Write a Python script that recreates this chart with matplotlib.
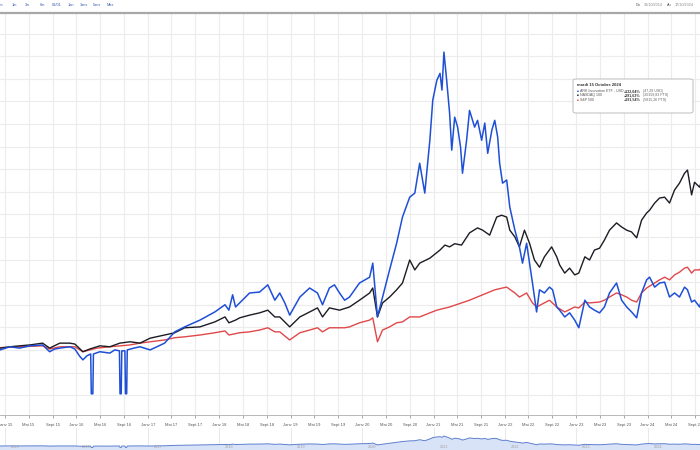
"""Performance comparée ARK Innovation ETF / NASDAQ 100 / S&P 500 (base 31/10/2014)."""

import matplotlib

matplotlib.use("Agg")

import matplotlib.dates as mdates
import matplotlib.pyplot as plt
import pandas as pd
from matplotlib.patches import FancyBboxPatch
from matplotlib.ticker import FuncFormatter, MultipleLocator

plt.rcParams["font.family"] = ["Liberation Sans", "DejaVu Sans"]

# --- données (performance en %) ---
ark_dates = [
    "2014-12-06", "2015-01-26", "2015-03-16", "2015-05-07", "2015-07-12", "2015-08-17",
    "2015-09-12", "2015-10-08", "2015-11-28", "2015-12-24", "2016-01-16", "2016-02-03",
    "2016-02-24", "2016-03-14", "2016-03-17", "2016-03-25", "2016-03-28", "2016-04-30",
    "2016-06-20", "2016-07-15", "2016-08-08", "2016-08-11", "2016-08-17", "2016-08-20",
    "2016-09-05", "2016-09-08", "2016-09-14", "2016-09-17", "2016-10-21", "2016-11-21",
    "2017-01-12", "2017-03-27", "2017-05-18", "2017-07-08", "2017-09-24", "2017-12-09",
    "2018-01-30", "2018-02-19", "2018-03-10", "2018-03-25", "2018-04-15", "2018-06-05",
    "2018-07-26", "2018-09-06", "2018-10-12", "2018-11-06", "2018-12-02", "2018-12-27",
    "2019-02-17", "2019-04-08", "2019-05-18", "2019-06-13", "2019-07-18", "2019-08-13",
    "2019-09-08", "2019-10-04", "2019-10-29", "2019-12-19", "2020-02-09", "2020-02-25",
    "2020-03-20", "2020-04-15", "2020-05-21", "2020-06-26", "2020-07-26", "2020-09-01",
    "2020-09-27", "2020-10-22", "2020-11-17", "2020-12-13", "2020-12-28", "2021-01-18",
    "2021-02-03", "2021-02-13", "2021-02-23", "2021-03-09", "2021-03-24", "2021-04-04",
    "2021-04-19", "2021-05-04", "2021-05-19", "2021-05-29", "2021-06-19", "2021-07-04",
    "2021-07-30", "2021-08-14", "2021-09-04", "2021-09-20", "2021-10-05", "2021-10-26",
    "2021-11-10", "2021-11-25", "2021-12-05", "2021-12-20", "2022-01-10", "2022-01-26",
    "2022-02-21", "2022-03-16", "2022-04-01", "2022-04-22", "2022-05-07", "2022-05-22",
    "2022-06-12", "2022-06-27", "2022-07-22", "2022-08-17", "2022-09-02", "2022-09-23",
    "2022-10-08", "2022-11-03", "2022-11-28", "2022-12-24", "2023-01-14", "2023-02-14",
    "2023-03-10", "2023-04-04", "2023-04-30", "2023-05-25", "2023-06-20", "2023-07-26",
    "2023-08-21", "2023-09-16", "2023-10-11", "2023-11-06", "2023-12-01", "2023-12-27",
    "2024-01-11", "2024-02-06", "2024-03-02", "2024-03-28", "2024-04-22", "2024-05-18",
    "2024-06-12", "2024-07-08", "2024-07-23", "2024-08-13", "2024-08-28", "2024-09-23",
    "2024-10-15",
]
ark_pct = [
    0, 7, 4, 9, 11, -4,
    2, 4, 7, 2, -13, -22,
    -13, -9, -97, -97, -9, -4,
    -7, 0, -2, -97, -97, -2,
    -2, -97, -97, 0, 4, 7,
    0, 15, 40, 51, 66, 84,
    100, 88, 122, 95, 104, 126,
    128, 144, 110, 126, 104, 77,
    117, 137, 126, 100, 137, 144,
    126, 110, 117, 148, 161, 192,
    73, 117, 177, 236, 294, 338,
    347, 413, 347, 464, 553, 597,
    612, 575, 659, 597, 524, 442,
    515, 493, 449, 391, 464, 530,
    493, 508, 464, 502, 435, 486,
    508, 471, 413, 369, 376, 316,
    265, 228, 192, 236, 192, 148,
    84, 133, 126, 139, 133, 95,
    88, 73, 82, 66, 49, 110,
    95, 88, 82, 95, 126, 148,
    110, 95, 84, 71, 126, 155,
    161, 139, 148, 150, 117, 126,
    117, 139, 133, 106, 110, 95,
    132.04,
]

ndx_dates = [
    "2014-12-06", "2015-01-26", "2015-03-16", "2015-05-07", "2015-07-12", "2015-08-17",
    "2015-10-08", "2015-11-28", "2015-12-24", "2016-02-03", "2016-03-09", "2016-04-30",
    "2016-06-20", "2016-08-10", "2016-10-01", "2016-11-21", "2017-01-12", "2017-03-27",
    "2017-05-18", "2017-07-08", "2017-09-24", "2017-12-09", "2018-01-30", "2018-02-19",
    "2018-03-25", "2018-04-15", "2018-06-05", "2018-07-26", "2018-09-06", "2018-10-12",
    "2018-11-06", "2018-12-27", "2019-02-17", "2019-04-08", "2019-05-18", "2019-06-13",
    "2019-07-18", "2019-09-08", "2019-10-29", "2019-12-19", "2020-02-09", "2020-02-25",
    "2020-03-20", "2020-04-15", "2020-05-21", "2020-06-26", "2020-07-26", "2020-09-01",
    "2020-09-27", "2020-10-22", "2020-12-13", "2021-02-03", "2021-02-28", "2021-03-24",
    "2021-04-19", "2021-05-24", "2021-07-04", "2021-08-14", "2021-09-09", "2021-10-15",
    "2021-11-20", "2021-12-15", "2022-01-10", "2022-01-26", "2022-02-21", "2022-03-16",
    "2022-04-11", "2022-05-07", "2022-06-01", "2022-06-27", "2022-07-22", "2022-08-28",
    "2022-09-23", "2022-10-08", "2022-11-03", "2022-11-28", "2022-12-24", "2023-01-14",
    "2023-02-14", "2023-03-10", "2023-04-04", "2023-04-30", "2023-05-25", "2023-06-20",
    "2023-07-26", "2023-08-21", "2023-09-16", "2023-10-11", "2023-11-06", "2023-12-01",
    "2023-12-27", "2024-01-11", "2024-02-06", "2024-03-02", "2024-03-28", "2024-04-22",
    "2024-05-18", "2024-06-12", "2024-07-08", "2024-07-23", "2024-08-13", "2024-08-28",
    "2024-09-23", "2024-10-15",
]
ndx_pct = [
    4, 7, 9, 11, 15, 4,
    15, 15, 13, -4, 2, 9,
    7, 15, 18, 15, 26, 33,
    38, 49, 51, 62, 73, 60,
    66, 71, 77, 82, 88, 73,
    73, 51, 73, 84, 93, 73,
    93, 88, 95, 110, 126, 137,
    73, 104, 117, 133, 148, 199,
    177, 192, 203, 221, 232, 228,
    235, 232, 259, 270, 265, 254,
    294, 298, 294, 265, 250, 228,
    265, 236, 199, 183, 206, 228,
    206, 188, 170, 181, 166, 170,
    206, 199, 221, 225, 243, 265,
    281, 272, 265, 261, 248, 287,
    303, 309, 325, 336, 338, 325,
    354, 369, 391, 398, 343, 371,
    360, 391.63,
]

spx_dates = [
    "2014-12-06", "2015-03-16", "2015-07-12", "2015-08-17", "2015-10-08", "2015-12-24",
    "2016-02-03", "2016-04-15", "2016-06-20", "2016-10-01", "2016-11-21", "2017-01-12",
    "2017-03-27", "2017-05-18", "2017-07-08", "2017-09-24", "2017-12-09", "2018-01-30",
    "2018-02-19", "2018-04-15", "2018-06-05", "2018-07-26", "2018-09-06", "2018-10-12",
    "2018-11-06", "2018-12-27", "2019-02-17", "2019-04-08", "2019-05-18", "2019-06-13",
    "2019-07-18", "2019-10-04", "2019-10-29", "2019-12-19", "2020-02-09", "2020-02-25",
    "2020-03-20", "2020-04-15", "2020-05-21", "2020-06-26", "2020-07-26", "2020-09-01",
    "2020-10-22", "2020-12-13", "2021-01-18", "2021-03-24", "2021-07-04", "2021-11-10",
    "2021-12-20", "2022-01-10", "2022-02-21", "2022-03-16", "2022-04-22", "2022-05-22",
    "2022-06-12", "2022-08-17", "2022-09-23", "2022-11-03", "2022-12-24", "2023-01-14",
    "2023-02-14", "2023-03-10", "2023-04-30", "2023-05-25", "2023-06-20", "2023-07-26",
    "2023-08-21", "2023-09-16", "2023-10-11", "2023-11-06", "2023-12-01", "2023-12-27",
    "2024-02-06", "2024-03-02", "2024-03-28", "2024-04-22", "2024-05-18", "2024-06-12",
    "2024-07-08", "2024-07-23", "2024-08-13", "2024-08-28", "2024-09-23", "2024-10-15",
]
spx_pct = [
    5, 7, 9, 2, 7, 7,
    -4, 4, 7, 11, 15, 18,
    22, 27, 29, 33, 38, 42,
    33, 38, 40, 44, 49, 40,
    40, 22, 38, 44, 49, 40,
    49, 49, 51, 60, 66, 71,
    18, 44, 51, 60, 62, 73,
    73, 82, 88, 95, 110, 133,
    137, 139, 126, 117, 126, 104,
    95, 110, 95, 84, 95, 93,
    106, 104, 106, 110, 117, 126,
    122, 117, 110, 106, 126, 137,
    148, 155, 161, 155, 166, 172,
    181, 183, 170, 177, 177, 191.54,
]

mois_fr = {1: "Janv", 5: "Mai", 9: "Sept"}
annees_nav = ["2015", "2016", "2017", "2018", "2019", "2020", "2021", "2022", "2023", "2024"]
liens_periode = ["1sem", "1m", "3m", "6m", "01/01", "1an", "3ans", "5ans", "Max"]

BLEU = "#1f4fd6"
NOIR = "#1c1c24"
ROUGE = "#e0484a"
GRILLE = "#ececec"

ark = pd.Series(ark_pct, index=pd.to_datetime(ark_dates))
ndx = pd.Series(ndx_pct, index=pd.to_datetime(ndx_dates))
spx = pd.Series(spx_pct, index=pd.to_datetime(spx_dates))
xmin, xmax = pd.Timestamp("2014-12-06"), pd.Timestamp("2024-09-25")

W, H = 700, 450
fig = plt.figure(figsize=(W / 100, H / 100), dpi=100)
fig.patch.set_facecolor("white")


def px(x, y):
    """Pixels (origine en haut à gauche) -> coordonnées figure."""
    return x / W, 1 - y / H


# --- graphique principal ---
ax = fig.add_axes([0, 35 / H, 1, 402 / H])
ax.plot(spx.index, spx.values, color=ROUGE, lw=1.0, zorder=2)
ax.plot(ndx.index, ndx.values, color=NOIR, lw=1.0, zorder=3)
ax.plot(ark.index, ark.values, color=BLEU, lw=1.1, zorder=4)

ax.set_xlim(xmin, xmax)
ax.set_ylim(-144, 745.5)
ax.yaxis.set_major_locator(MultipleLocator(50))
ax.xaxis.set_major_locator(mdates.MonthLocator(bymonth=[1, 5, 9]))
ax.xaxis.set_major_formatter(
    FuncFormatter(lambda v, _: f"{mois_fr[mdates.num2date(v).month]} {mdates.num2date(v):%y}")
)
ax.grid(True, color=GRILLE, lw=0.8, zorder=0)
ax.tick_params(axis="y", left=False, labelleft=False)
ax.tick_params(axis="x", length=2.5, width=0.6, color="#999999", labelsize=3.0,
               labelcolor="#555555", pad=3)
for side in ("left", "right"):
    ax.spines[side].set_visible(False)
ax.spines["top"].set_color("#a8a8a8")
ax.spines["top"].set_linewidth(1.6)
ax.spines["bottom"].set_color("#b8b8b8")
ax.spines["bottom"].set_linewidth(0.7)

# --- navigateur en bas ---
nav = fig.add_axes([0, 0, 1, 22 / H])
nav.fill_between(ark.index, ark.values, -264, color="#d9e3f7", lw=0)
nav.plot(ark.index, ark.values, color="#5f80d0", lw=0.7)
nav.set_xlim(xmin, xmax)
nav.set_ylim(-264, 1186)
nav.axis("off")
for annee in annees_nav:
    d = pd.Timestamp(f"{annee}-01-01")
    nav.axvline(d, color="#e4e4e4", lw=0.6, zorder=0)
    nav.text(d + pd.Timedelta(days=30), -200, annee, fontsize=2.8, color="#a0a0a0",
             va="bottom", ha="left")

# --- barre de sélection de période ---
x_liens = [-6, 12, 25, 40, 52, 68, 80, 93, 107]
for lien, xl in zip(liens_periode, x_liens):
    fig.text(*px(xl, 5), lien, fontsize=2.8, color="#3a5bb0", va="center", ha="left")
fig.text(*px(636, 5), "Du", fontsize=2.7, color="#555555", va="center")
fig.text(*px(644, 5), "31/10/2014", fontsize=2.7, color="#888888", va="center")
fig.text(*px(667, 5), "Au", fontsize=2.7, color="#555555", va="center")
fig.text(*px(675, 5), "17/10/2024", fontsize=2.7, color="#888888", va="center")

# --- infobulle ---
x0, y0 = px(573, 113)
fig.patches.append(FancyBboxPatch(
    (x0, y0), 120 / W, 34 / H, boxstyle="round,pad=0,rounding_size=0.004",
    transform=fig.transFigure, facecolor="white", edgecolor="#bdbdbd", lw=0.7, zorder=10,
))
fig.text(*px(577, 85), "mardi 15 Octobre 2024", fontsize=3.0, fontweight="bold",
         color="#333333", va="center", zorder=11)
lignes = [
    ("ARK Innovation ETF - USD :", "+132,04%", "(47,29 USD)", BLEU),
    ("NASDAQ 100", "+391,63%", "(20159,83 PTS)", NOIR),
    ("S&P 500", "+191,54%", "(5815,26 PTS)", ROUGE),
]
for i, (nom, perf, niveau, couleur) in enumerate(lignes):
    yl = 91 + i * 4.4
    fig.text(*px(577, yl), "■", fontsize=2.2, color=couleur, va="center", zorder=11)
    fig.text(*px(580, yl), nom, fontsize=2.6, color="#555555", va="center", zorder=11)
    fig.text(*px(624, yl), perf, fontsize=2.6, fontweight="bold", color="#333333",
             va="center", zorder=11)
    fig.text(*px(643, yl), niveau, fontsize=2.6, color="#666666", va="center", zorder=11)

fig.savefig("out.png", dpi=100, facecolor="white")
